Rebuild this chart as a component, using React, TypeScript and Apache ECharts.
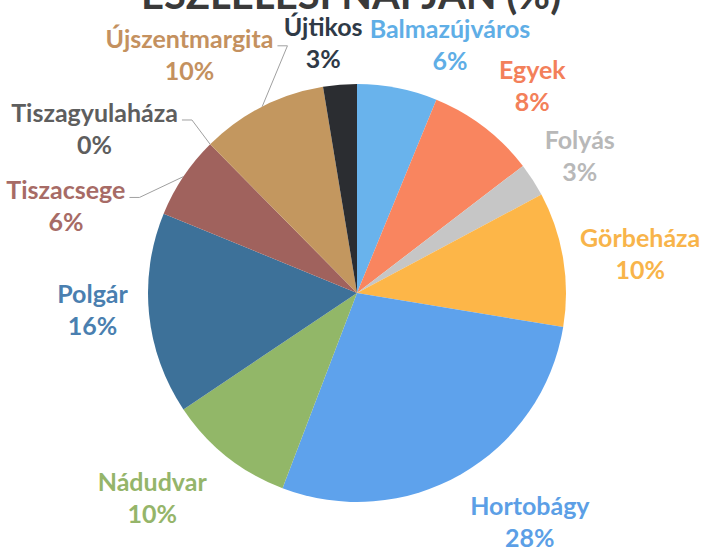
import React, { useEffect, useRef } from 'react';
import * as echarts from 'echarts';

const titleText = 'ÉSZLELÉSI NAPJÁN (%)';
const categories = [
  'Balmazújváros', 'Egyek', 'Folyás', 'Görbeháza', 'Hortobágy', 'Nádudvar',
  'Polgár', 'Tiszacsege', 'Tiszagyulaháza', 'Újszentmargita', 'Újtikos',
];
const shares = [6.2, 8.4, 2.6, 10.4, 28.2, 9.8, 15.6, 6.4, 0, 9.8, 2.6];

const sliceColors = [
  '#69B3EC', '#F9855F', '#C6C6C6', '#FDB648', '#5EA2EC', '#92B768',
  '#3D7199', '#A0625D', '#7F7F7F', '#C3975F', '#2B2D31',
];
const labelColors = [
  '#5FAEE6', '#F3805A', '#B8B8B8', '#F8B44A', '#5C9FE6', '#95B56A',
  '#4A7FB0', '#A76B66', '#5E5E5E', '#C4915F', '#2F3A47',
];

// label placement (layout only)
const labelAngleShift = [9.3, 2.7, 1, 1.3, -7.3, 6.6, 2.2, -17.1, -13.2, -8, -3];
const labelRadius = [266, 272, 262, 286, 286, 289, 265, 304, 310, 292, 253];
const withLeader = [false, false, false, false, false, false, false, true, true, true, false];

const CX = 357;
const CY = 293;
const R = 209;

export default function App() {
  const ref = useRef<HTMLDivElement>(null);
  useEffect(() => {
    if (!ref.current) return;
    const chart = echarts.init(ref.current, null, { renderer: 'svg' });
    const total = shares.reduce((a, b) => a + b, 0);
    const mids: number[] = [];
    let cum = 0;
    shares.forEach((v) => {
      mids.push(((cum + v / 2) / total) * 360);
      cum += v;
    });
    const data = categories.map((name, i) => ({
      name,
      value: shares[i],
      itemStyle: { color: sliceColors[i] },
      label: { color: labelColors[i] },
      labelLine: { show: withLeader[i] },
    }));
    chart.setOption({
      animation: false,
      title: {
        text: titleText,
        left: 'center',
        top: -31,
        textStyle: { fontSize: 40, fontWeight: 'bold', color: '#3a3a3a', fontFamily: 'Lato' },
      },
      series: [
        {
          type: 'pie',
          center: [CX, CY],
          radius: R,
          startAngle: 90,
          clockwise: true,
          avoidLabelOverlap: false,
          itemStyle: { borderWidth: 0 },
          label: {
            show: true,
            position: 'outside',
            fontFamily: 'Lato',
            fontWeight: 'bold',
            fontSize: 25,
            lineHeight: 32,
            formatter: (p: any) => `${p.name}\n${Math.round(p.value)}%`,
          },
          labelLine: {
            show: false,
            length: 10,
            length2: 10,
            lineStyle: { color: '#A0A0A0', width: 1 },
          },
          labelLayout: (p: any) => {
            const i = p.dataIndex;
            const a = ((mids[i] + labelAngleShift[i]) * Math.PI) / 180;
            const r = labelRadius[i];
            const x = CX + r * Math.sin(a);
            const y = CY - r * Math.cos(a);
            const out: any = { x, y, align: 'center', verticalAlign: 'middle' };
            if (withLeader[i]) {
              const w = p.labelRect.width;
              const h = p.labelRect.height;
              const rightX = x + w / 2;
              const y1 = y - h / 2 + 24;
              const ma = (mids[i] * Math.PI) / 180;
              const ex = CX + R * Math.sin(ma);
              const ey = CY - R * Math.cos(ma);
              out.labelLinePoints = [
                [ex, ey],
                [rightX + 14, y1],
                [rightX + 4, y1],
              ];
            }
            return out;
          },
          data,
        },
      ],
    });
    return () => chart.dispose();
  }, []);
  return (
    <div
      ref={ref}
      style={{ position: 'fixed', left: 0, top: 0, width: 702, height: 547, background: '#fff' }}
    />
  );
}
